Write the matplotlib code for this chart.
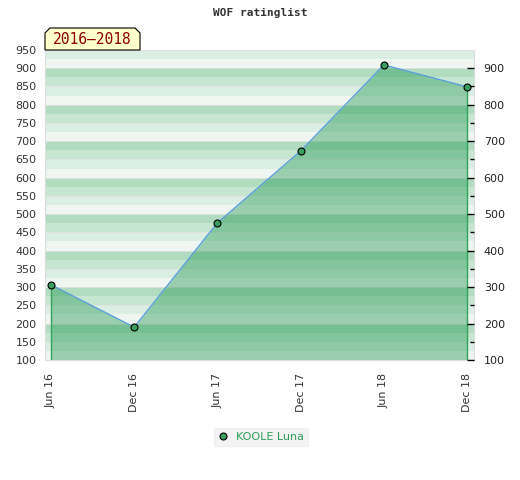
import matplotlib
matplotlib.use("Agg")
import matplotlib.pyplot as plt
from matplotlib.patches import Polygon

dates = ["Jun 16", "Dec 16", "Jun 17", "Dec 17", "Jun 18", "Dec 18"]
ratings = [306, 190, 476, 673, 909, 849]
player = "KOOLE Luna"
period = "2016\u20132018"

W, H = 520, 480
ymin, ymax = 100, 950
band_colors = ["#eff6f1", "#dbeee3", "#c7e6d1", "#b2dcc0"]


def fx(px):
    return px / W


def fy(py):
    return 1 - py / H


fig = plt.figure(figsize=(W / 100, H / 100), dpi=100)
ax = fig.add_axes([fx(45), fy(360), fx(474) - fx(45), fy(50) - fy(360)])

# striped background, 25 units per stripe
for lo in range(0, 1000, 25):
    ax.axhspan(lo, lo + 25, color=band_colors[(lo // 25) % 4], lw=0, zorder=0)
for y in range(ymin, ymax + 1, 50):
    ax.axhline(y, color="#e2e2e2", lw=0.6, zorder=0.5)

x = list(range(len(dates)))
ax.fill_between(x, ratings, ymin, color="#1e944e", alpha=0.4, lw=0, zorder=1)
ax.plot(x, ratings, color="#5aa0d8", lw=1, zorder=2)
ax.vlines([x[0], x[-1]], ymin, [ratings[0], ratings[-1]], color="#2fa55a", lw=1, zorder=2)
ax.plot(x, ratings, ls="none", marker="o", ms=5, mfc="#3a9e5e", mec="black", mew=0.8,
        zorder=3, label=player)

ax.set_xlim(-6 / 83.2, len(dates) - 1 + 7 / 83.2)
ax.set_ylim(ymin, ymax)
ax.set_xticks(x)
ax.set_xticklabels(dates, rotation=90)
ax.set_yticks(range(ymin, ymax + 1, 50))
ax.tick_params(axis="x", length=0, pad=9, labelsize=8, labelcolor="#333333")
ax.tick_params(axis="y", length=0, pad=6, labelsize=8, labelcolor="#333333")
for s in ax.spines.values():
    s.set_color("#dddddd")

ax2 = ax.twinx()
ax2.set_ylim(ymin, ymax)
ax2.set_yticks(range(ymin, 901, 100))
ax2.set_yticks(range(150, ymax, 100), minor=True)
ax2.tick_params(axis="y", which="major", direction="in", length=5, width=1, pad=7,
                labelsize=8, labelcolor="#222222")
ax2.tick_params(axis="y", which="minor", direction="in", length=3, width=1)
for s in ax2.spines.values():
    s.set_visible(False)

fig.text(0.5, fy(13), "WOF ratinglist", ha="center", va="center",
         family="DejaVu Sans Mono", weight="bold", fontsize=8, color="#333333")

# period tag with clipped top corners
l, r, t, b, c = 45, 140, 28, 50, 5
pts = [(l, b), (l, t + c), (l + c, t), (r - c, t), (r, t + c), (r, b)]
fig.patches.append(Polygon([(fx(px), fy(py)) for px, py in pts], closed=True,
                           transform=fig.transFigure, facecolor="#ffffcc",
                           edgecolor="black", lw=0.8, zorder=5))
fig.text(fx((l + r) / 2), fy(40), period, ha="center", va="center",
         family="DejaVu Sans Mono", fontsize=10.5, color="#8b0000", zorder=6)

leg = fig.legend(loc="center", bbox_to_anchor=(fx(261), fy(437)), frameon=True,
                 fancybox=False, facecolor="#f0f0f0", edgecolor="#f0f0f0",
                 fontsize=8, handlelength=0.8, handletextpad=0.8, borderpad=0.4)
for t_ in leg.get_texts():
    t_.set_color("#2e9e5a")

fig.savefig("out.png", dpi=100)
